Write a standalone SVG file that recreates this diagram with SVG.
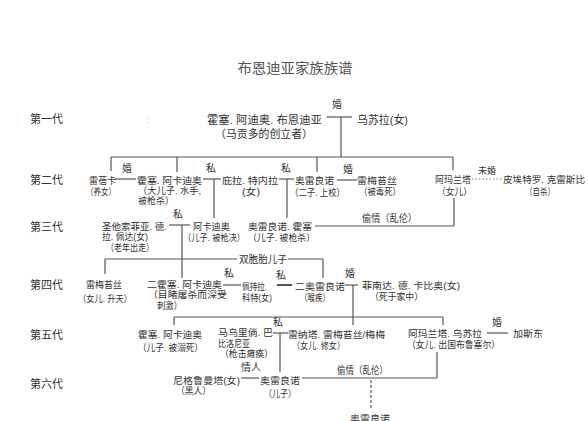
<svg xmlns="http://www.w3.org/2000/svg" width="588" height="421" viewBox="0 0 588 421">
<style>
text{font-family:"Liberation Sans","Noto Sans CJK SC",sans-serif;font-size:9.5px;fill:#333}
.title{font-size:14px;fill:#555}
.gen{font-size:11px;fill:#333}
.big{font-size:11px}
.lbl{font-size:10px;fill:#333}
.sm{font-size:9px}
.ln{stroke:#555;stroke-width:1.2;fill:none}
.dot{stroke:#777;stroke-width:1;fill:none;stroke-dasharray:1.5 2}
.dash{stroke:#555;stroke-width:1.2;fill:none;stroke-dasharray:3 2}
</style>
<rect width="588" height="421" fill="#fff"/>
<text class="title" x="295" y="73" text-anchor="middle" textLength="115" lengthAdjust="spacingAndGlyphs">布恩迪亚家族族谱</text>
<g id="generations">
<text class="gen" x="30" y="123">第一代</text>
<text class="gen" x="30" y="184">第二代</text>
<text class="gen" x="30" y="231">第三代</text>
<text class="gen" x="30" y="289">第四代</text>
<text class="gen" x="30" y="339">第五代</text>
<text class="gen" x="30" y="388">第六代</text>
<text x="146" y="123" style="fill:#bbb">:</text>
</g>
<g id="connectors">
<line class="ln" x1="327" y1="117" x2="352" y2="117"/>
<line class="ln" x1="341" y1="117" x2="341" y2="157"/>
<text class="lbl" x="332" y="108">婚</text>
<line class="ln" x1="111" y1="157" x2="453" y2="157"/>
<line class="ln" x1="111" y1="157" x2="111" y2="171"/>
<line class="ln" x1="177" y1="157" x2="177" y2="172"/>
<line class="ln" x1="317" y1="157" x2="317" y2="172"/>
<line class="ln" x1="453" y1="157" x2="453" y2="170"/>
<line class="ln" x1="115" y1="179" x2="136" y2="179"/>
<text class="lbl" x="122" y="172">婚</text>
<line class="ln" x1="203" y1="179" x2="221" y2="179"/>
<line class="ln" x1="214" y1="179" x2="214" y2="218"/>
<text class="lbl" x="206" y="172">私</text>
<line class="ln" x1="279" y1="179" x2="294" y2="179"/>
<line class="ln" x1="287" y1="179" x2="287" y2="218"/>
<text class="lbl" x="281" y="172">私</text>
<line class="ln" x1="337" y1="180" x2="357" y2="180"/>
<text class="lbl" x="343" y="173">婚</text>
<line class="dot" x1="472" y1="179" x2="503" y2="179"/>
<text class="lbl sm" x="478" y="174">未婚</text>
<line class="ln" x1="169" y1="225" x2="190" y2="225"/>
<line class="ln" x1="182" y1="225" x2="182" y2="278"/>
<text class="lbl" x="173" y="218">私</text>
<line class="ln" x1="315" y1="226" x2="454" y2="226"/>
<line class="ln" x1="454" y1="198" x2="454" y2="226"/>
<text class="lbl" x="362" y="222" textLength="55" lengthAdjust="spacingAndGlyphs">偷情（乱伦）</text>
<line class="ln" x1="105" y1="259" x2="237" y2="259"/>
<line class="ln" x1="105" y1="259" x2="105" y2="274"/>
<line class="ln" x1="288" y1="259" x2="323" y2="259"/>
<line class="ln" x1="323" y1="259" x2="323" y2="278"/>
<text class="lbl" x="239" y="263" textLength="48" lengthAdjust="spacingAndGlyphs">双胞胎儿子</text>
<line class="ln" x1="223" y1="285" x2="241" y2="285"/>
<text class="lbl" x="224" y="277">私</text>
<line class="ln" x1="277" y1="285" x2="292" y2="285" style="stroke-width:2"/>
<text class="lbl" x="276" y="279">私</text>
<line class="ln" x1="345" y1="285" x2="358" y2="285"/>
<line class="ln" x1="353" y1="285" x2="353" y2="325"/>
<text class="lbl" x="345" y="277">婚</text>
<line class="ln" x1="174" y1="317" x2="443" y2="317"/>
<line class="ln" x1="174" y1="317" x2="174" y2="325"/>
<line class="ln" x1="443" y1="317" x2="443" y2="325"/>
<line class="ln" x1="273" y1="333" x2="288" y2="333"/>
<line class="ln" x1="280" y1="333" x2="280" y2="372"/>
<text class="lbl" x="273" y="326">私</text>
<line class="ln" x1="487" y1="333" x2="508" y2="333"/>
<text class="lbl" x="492" y="326">婚</text>
<line class="ln" x1="437" y1="352" x2="437" y2="378"/>
<line class="ln" x1="302" y1="378" x2="437" y2="378"/>
<text class="lbl" x="337" y="374" textLength="51" lengthAdjust="spacingAndGlyphs">偷情（乱伦）</text>
<line class="dash" x1="371" y1="380" x2="371" y2="408"/>
<line class="ln" x1="241" y1="378" x2="259" y2="378"/>
<text class="lbl" x="241" y="371">情人</text>
</g>
<g id="n-jose-arcadio-buendia">
<text class="big" x="207" y="124" textLength="115" lengthAdjust="spacingAndGlyphs">霍塞. 阿迪奥. 布恩迪亚</text>
<text class="big" x="215" y="138" textLength="98" lengthAdjust="spacingAndGlyphs">（马贡多的创立者）</text>
</g>
<g id="n-ursula"><text class="big" x="357" y="124" textLength="51" lengthAdjust="spacingAndGlyphs">乌苏拉(女)</text></g>
<g id="n-rebeca">
<text x="89" y="184" textLength="27" lengthAdjust="spacingAndGlyphs">雷蓓卡</text>
<text x="86" y="195" textLength="30" lengthAdjust="spacingAndGlyphs">（养女）</text>
</g>
<g id="n-jose-arcadio">
<text x="137" y="184" textLength="65" lengthAdjust="spacingAndGlyphs">霍塞. 阿卡迪奥</text>
<text x="138" y="194" textLength="63" lengthAdjust="spacingAndGlyphs">（大儿子. 水手,</text>
<text x="138" y="204" textLength="36" lengthAdjust="spacingAndGlyphs">被枪杀）</text>
</g>
<g id="n-pilar">
<text x="222" y="184" textLength="56" lengthAdjust="spacingAndGlyphs">庇拉. 特内拉</text>
<text x="242" y="195" textLength="18" lengthAdjust="spacingAndGlyphs">(女)</text>
</g>
<g id="n-aureliano">
<text x="295" y="184" textLength="39" lengthAdjust="spacingAndGlyphs">奥雷良诺</text>
<text x="290" y="196" textLength="55" lengthAdjust="spacingAndGlyphs">（二子. 上校）</text>
</g>
<g id="n-remedios-moscote">
<text x="357" y="184" textLength="40" lengthAdjust="spacingAndGlyphs">雷梅苔丝</text>
<text x="359" y="195" textLength="42" lengthAdjust="spacingAndGlyphs">（被毒死）</text>
</g>
<g id="n-amaranta">
<text x="435" y="183" textLength="36" lengthAdjust="spacingAndGlyphs">阿玛兰塔</text>
<text x="437" y="195" textLength="35" lengthAdjust="spacingAndGlyphs">（女儿）</text>
</g>
<g id="n-pietro">
<text x="503" y="183" textLength="82" lengthAdjust="spacingAndGlyphs">皮埃特罗. 克雷斯比</text>
<text x="525" y="195" textLength="30" lengthAdjust="spacingAndGlyphs">（自杀）</text>
</g>
<g id="n-santa-sofia">
<text x="102" y="230" textLength="65" lengthAdjust="spacingAndGlyphs">圣他索菲亚. 德.</text>
<text x="102" y="240" textLength="46" lengthAdjust="spacingAndGlyphs">拉. 佩达(女)</text>
<text x="106" y="251" textLength="48" lengthAdjust="spacingAndGlyphs">（老年出走）</text>
</g>
<g id="n-arcadio">
<text x="193" y="230" textLength="37" lengthAdjust="spacingAndGlyphs">阿卡迪奥</text>
<text x="183" y="241" textLength="62" lengthAdjust="spacingAndGlyphs">（儿子. 被枪决）</text>
</g>
<g id="n-aureliano-jose">
<text x="248" y="230" textLength="64" lengthAdjust="spacingAndGlyphs">奥雷良诺. 霍塞</text>
<text x="248" y="241" textLength="67" lengthAdjust="spacingAndGlyphs">（儿子. 被枪杀）</text>
</g>
<g id="n-remedios-bella">
<text x="86" y="288" textLength="36" lengthAdjust="spacingAndGlyphs">雷梅苔丝</text>
<text x="78" y="302" textLength="54" lengthAdjust="spacingAndGlyphs">（女儿. 升天）</text>
</g>
<g id="n-jose-arcadio-segundo">
<text x="147" y="288" textLength="75" lengthAdjust="spacingAndGlyphs">二霍塞. 阿卡迪奥</text>
<text x="148" y="298" textLength="79" lengthAdjust="spacingAndGlyphs">（目睹屠杀而深受</text>
<text x="157" y="309" textLength="25" lengthAdjust="spacingAndGlyphs">刺激）</text>
</g>
<g id="n-petra">
<text x="242" y="290" textLength="25" lengthAdjust="spacingAndGlyphs">佩持拉.</text>
<text x="242" y="301" textLength="30" lengthAdjust="spacingAndGlyphs">科特(女)</text>
</g>
<g id="n-aureliano-segundo">
<text x="295" y="290" textLength="50" lengthAdjust="spacingAndGlyphs">二奥雷良诺</text>
<text x="300" y="301" textLength="30" lengthAdjust="spacingAndGlyphs">（喉疾）</text>
</g>
<g id="n-fernanda">
<text x="362" y="289" textLength="98" lengthAdjust="spacingAndGlyphs">菲南达. 德. 卡比奥(女)</text>
<text x="370" y="300" textLength="53" lengthAdjust="spacingAndGlyphs">（死于家中）</text>
</g>
<g id="n-jose-arcadio-5">
<text x="138" y="338" textLength="64" lengthAdjust="spacingAndGlyphs">霍塞. 阿卡迪奥</text>
<text x="138" y="351" textLength="65" lengthAdjust="spacingAndGlyphs">（儿子. 被溺死）</text>
</g>
<g id="n-mauricio">
<text x="218" y="336" textLength="55" lengthAdjust="spacingAndGlyphs">马乌里倘. 巴</text>
<text x="218" y="346.5" textLength="32" lengthAdjust="spacingAndGlyphs">比洛尼亚</text>
<text x="220" y="357" textLength="53" lengthAdjust="spacingAndGlyphs">（枪击瘫痪）</text>
</g>
<g id="n-meme">
<text x="288" y="338" textLength="97" lengthAdjust="spacingAndGlyphs">雷纳塔. 雷梅苔丝/梅梅</text>
<text x="292" y="349" textLength="53" lengthAdjust="spacingAndGlyphs">（女儿. 修女）</text>
</g>
<g id="n-amaranta-ursula">
<text x="408" y="337" textLength="74" lengthAdjust="spacingAndGlyphs">阿玛兰塔. 乌苏拉</text>
<text x="407" y="348" textLength="93" lengthAdjust="spacingAndGlyphs">（女儿. 出国布鲁塞尔）</text>
</g>
<g id="n-gaston"><text x="513" y="337" textLength="30" lengthAdjust="spacingAndGlyphs">加斯东</text></g>
<g id="n-nigromanta">
<text x="173" y="384" textLength="67" lengthAdjust="spacingAndGlyphs">尼格鲁曼塔(女)</text>
<text x="176" y="394" textLength="35" lengthAdjust="spacingAndGlyphs">（黑人）</text>
</g>
<g id="n-aureliano-6">
<text x="260" y="384" textLength="40" lengthAdjust="spacingAndGlyphs">奥雷良诺</text>
<text x="264" y="397" textLength="32" lengthAdjust="spacingAndGlyphs">（儿子）</text>
</g>
<g id="n-aureliano-7"><text x="350" y="422" textLength="40" lengthAdjust="spacingAndGlyphs">奥雷良诺</text></g>
</svg>
